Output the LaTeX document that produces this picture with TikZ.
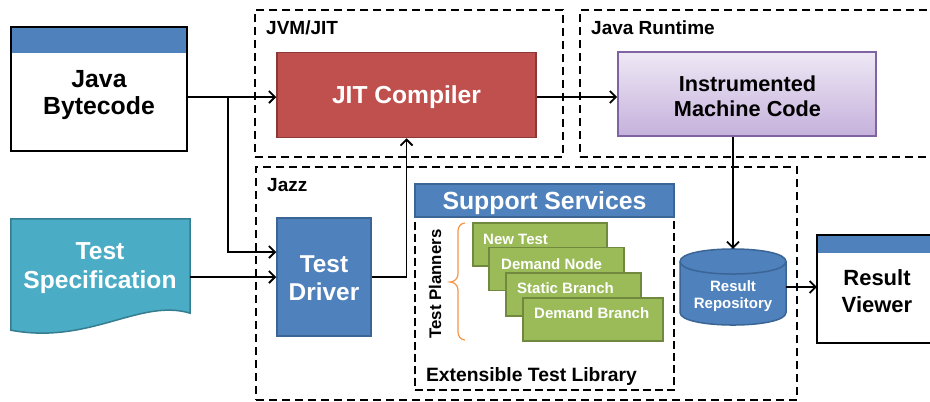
\documentclass[tikz,border=0pt]{standalone}
\usepackage{fontspec}
\setmainfont{Liberation Sans}
\usetikzlibrary{arrows.meta}
\definecolor{bblue}{HTML}{4F81BD}
\definecolor{bblueD}{HTML}{3A6595}
\definecolor{jred}{HTML}{C0504D}
\definecolor{jredD}{HTML}{8C3836}
\definecolor{tealA}{HTML}{4BACC6}
\definecolor{tealD}{HTML}{357D91}
\definecolor{grn}{HTML}{9BBB59}
\definecolor{grnD}{HTML}{71893F}
\definecolor{purD}{HTML}{8064A2}
\definecolor{purT}{HTML}{EEE8F5}
\definecolor{purB}{HTML}{C5B1DC}
\definecolor{orng}{HTML}{F79646}
\tikzset{
  conn/.style={line width=1.8pt, -{Straight Barb[length=6pt,width=12pt,line width=1.8pt]}},
  grp/.style={draw, line width=2pt, dash pattern=on 8pt off 5pt, inner sep=0pt},
  grplbl/.style={font=\fontsize{19}{21}\selectfont\bfseries, anchor=base west, inner sep=0pt},
  shapebox/.style={inner sep=0pt},
  bigtxt/.style={font=\fontsize{24.6}{27}\selectfont\bfseries, align=center, inner sep=0pt},
  greenbox/.style={fill=grn, draw=grnD, line width=1.5pt, inner sep=0pt, minimum height=43pt},
  greentxt/.style={font=\fontsize{15}{17}\selectfont\bfseries, text=white, anchor=base west, inner sep=0pt},
}
\begin{document}
\begin{tikzpicture}[x=1pt,y=-1pt]
\path[use as bounding box, clip] (0,0) rectangle (930,402);
\fill[white] (0,0) rectangle (930,402);

% group boxes
\node[grp, minimum width=308pt, minimum height=147pt] (jvm) at (409,83.5) {};
\node[grplbl] (jvmlbl) at (266,34) {JVM/JIT};
\node[grp, minimum width=360pt, minimum height=147pt] (jrt) at (760,83.5) {};
\node[grplbl] (jrtlbl) at (591,34) {Java Runtime};
\node[grp, minimum width=541pt, minimum height=233pt] (jazz) at (526.5,283.5) {};
\node[grplbl] (jazzlbl) at (267,191) {Jazz};

% Java Bytecode
\node[shapebox, fill=white, minimum width=176pt, minimum height=124pt] (jb) at (99,89) {};
\fill[bblue] (jb.north west) rectangle ([yshift=-26pt]jb.north east);
\draw[line width=1.8pt] (jb.north west) rectangle (jb.south east);
\node[bigtxt, font=\fontsize{24.8}{26.7}\selectfont\bfseries] (jbt) at (99,95) {Java\\Bytecode};

% JIT Compiler
\node[shapebox, fill=jred, draw=jredD, line width=1.5pt, minimum width=259pt, minimum height=85pt] (jit) at (406.5,95) {};
\node[bigtxt, text=white, anchor=base] (jitt) at (406.5,103.5) {JIT Compiler};

% Instrumented Machine Code
\node[shapebox, top color=purT, bottom color=purB, draw=purD, line width=1.8pt, minimum width=258pt, minimum height=84pt] (imc) at (747,94) {};
\node[bigtxt, font=\fontsize{21.7}{25}\selectfont\bfseries] (imct) at (747.5,96) {Instrumented\\Machine Code};

% Test Specification
\node[shapebox, minimum width=179pt, minimum height=111pt] (ts) at (100.5,274.5) {};
\draw[fill=tealA, draw=tealD, line width=1.5pt] (ts.north west) -- (ts.north east) -- ([yshift=17pt]ts.south east)
   .. controls (140,298) and (90,345) .. (ts.south west) -- cycle;
\node[bigtxt, text=white, font=\fontsize{24.6}{29.5}\selectfont\bfseries] (tst) at (100,268) {Test\\Specification};

% Test Driver
\node[shapebox, fill=bblue, draw=bblueD, line width=1.5pt, minimum width=94pt, minimum height=118pt] (td) at (324,277) {};
\node[bigtxt, text=white, font=\fontsize{24.4}{28}\selectfont\bfseries] (tdt) at (324,278.5) {Test\\Driver};

% Support services / library
\node[shapebox, draw, line width=1.5pt, dash pattern=on 8pt off 4pt, minimum width=259pt, minimum height=173pt] (lib) at (544.5,303.5) {};
\node[shapebox, fill=bblue, draw=bblueD, line width=1.5pt, minimum width=259pt, minimum height=33pt] (ss) at (544.5,200.5) {};
\node[bigtxt, text=white, anchor=base, font=\fontsize{24.8}{27}\selectfont\bfseries] (sst) at (544.5,209.5) {Support Services};
\node[font=\fontsize{19.3}{21}\selectfont\bfseries, anchor=base, inner sep=0pt] (libt) at (531.5,381) {Extensible Test Library};
\node[font=\fontsize{16.8}{18}\selectfont\bfseries, rotate=90, inner sep=0pt] (tp) at (435,284) {Test Planners};
\draw[orng, line width=1.2pt] (465,223) to[out=180,in=90] (458,231) -- (458,274) to[out=270,in=0] (450,282)
   to[out=0,in=90] (458,290) -- (458,332) to[out=270,in=180] (465,340);

% planners
\node[greenbox, minimum width=134pt] (p1) at (540,244.5) {};
\node[greentxt] (p1t) at (483,244) {New Test};
\node[greenbox, minimum width=135pt] (p2) at (556.5,269) {};
\node[greentxt] (p2t) at (501,269) {Demand Node};
\node[greenbox, minimum width=135pt] (p3) at (573.5,294.5) {};
\node[greentxt] (p3t) at (517,293.5) {Static Branch};
\node[greenbox, minimum width=140pt] (p4) at (593,319.5) {};
\node[greentxt] (p4t) at (534,318) {Demand Branch};

% Result repository
\node[shapebox, minimum width=106pt, minimum height=76pt] (repo) at (733,287) {};
\draw[fill=bblue, draw=bblueD, line width=1.5pt] (680,261.5) -- (680,312.5)
   .. controls (680,329.2) and (786,329.2) .. (786,312.5) -- (786,261.5)
   .. controls (786,244.8) and (680,244.8) .. (680,261.5) -- cycle;
\draw[bblueD, line width=1.5pt] (680,261.5) .. controls (680,278.2) and (786,278.2) .. (786,261.5);
\node[font=\fontsize{15}{17.5}\selectfont\bfseries, text=white, align=center, inner sep=0pt] (repot) at (733,296) {Result\\Repository};

% Result viewer
\node[shapebox, fill=white, minimum width=123pt, minimum height=108pt] (rv) at (878.5,289) {};
\fill[bblue] (rv.north west) rectangle ([yshift=-18pt]rv.north east);
\draw[line width=1.8pt] (rv.north west) rectangle (rv.south east);
\node[bigtxt, font=\fontsize{22}{27}\selectfont\bfseries] (rvt) at (877,291) {Result\\Viewer};

% connectors
\coordinate (br) at (228,97);
\draw[conn] (jb.east |- br) -- (jit.west |- br);
\draw[conn] (br) |- ([yshift=25pt]td.west);
\draw[conn] (ts.east |- td.west) -- (td.west);
\draw[conn] (td.east) -| (jit.south);
\draw[conn] (jit.east |- br) -- (imc.west |- br);
\draw[conn] (repo.north |- imc.south) -- (repo.north);
\draw[conn] (repo.east) -- (rv.west |- repo.east);
\end{tikzpicture}
\end{document}
